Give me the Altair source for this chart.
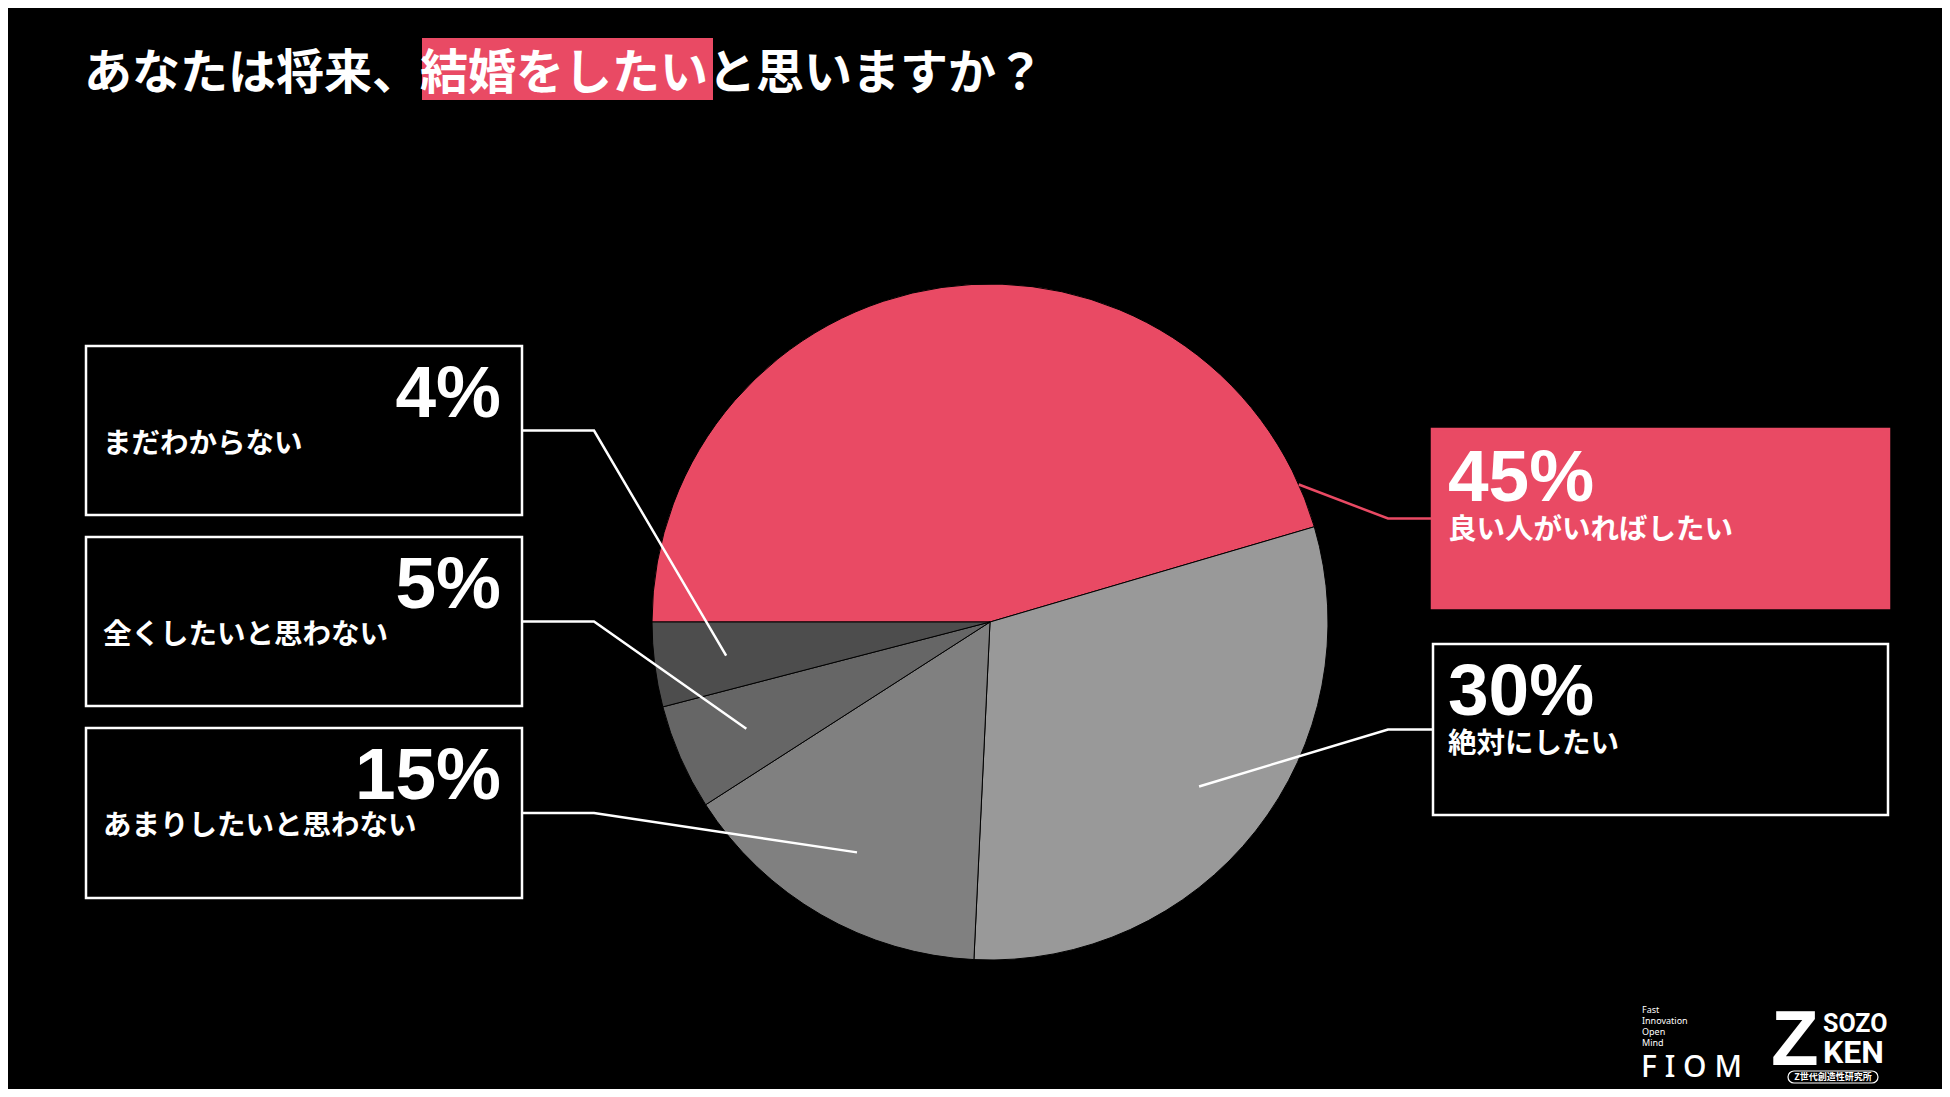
import math
import pandas as pd
import altair as alt

# ---------------- data ----------------
categories = ["良い人がいればしたい", "絶対にしたい", "あまりしたいと思わない", "全くしたいと思わない", "まだわからない"]
values = [45, 30, 15, 5, 4]
pct_labels = ["45%", "30%", "15%", "5%", "4%"]
slice_colors = ["#E94A64", "#999999", "#808080", "#666666", "#4D4D4D"]

title_text = "あなたは将来、結婚をしたいと思いますか？"
logo_fiom_words = ["Fast", "Innovation", "Open", "Mind"]
logo_fiom = "F I O M"
logo_sozo = ["SOZO", "KEN"]
logo_sub = "Z世代創造性研究所"

# ---------------- layout (screen pixels) ----------------
OFF = 8  # page margin
W, H = 1950 - 2 * OFF, 1097 - 2 * OFF
CX, CY, R = 990, 622, 338
START = 270.0  # degrees, clockwise from 12 o'clock
LEADER_R = 266

# box per category: x0, y0, x1, y1, side
boxes = [
    (1432, 429, 1889, 608, "right"),
    (1432, 643, 1889, 816, "right"),
    (85, 727, 523, 899, "left"),
    (85, 536, 523, 707, "left"),
    (85, 345, 523, 516, "left"),
]
ELBOW = {"left": 594, "right": 1388}
# first (highlighted) leader ends on the pie edge at a fixed angle
anchor_override = {0: (66.0, R)}

RED = slice_colors[0]


def sx(v):
    return v - OFF


# ---------------- pie ----------------
pie_df = pd.DataFrame({
    "cat": categories,
    "value": values,
    "color": slice_colors,
    "idx": list(range(len(values))),
})

total = sum(values)
lead_rows, box_rows, pct_rows_l, pct_rows_r, lab_rows = [], [], [], [], []
cum = 0
for i, (c, v) in enumerate(zip(categories, values)):
    mid = START + (cum + v / 2) / total * 360.0
    cum += v
    ang, rad = anchor_override.get(i, (mid, LEADER_R))
    ax = CX + rad * math.sin(math.radians(ang))
    ay = CY - rad * math.cos(math.radians(ang))
    x0, y0, x1, y1, side = boxes[i]
    ym = (y0 + y1) / 2
    edge = x1 if side == "left" else x0
    lc = RED if i == 0 else "#FFFFFF"
    for k, (px, py) in enumerate([(edge, ym), (ELBOW[side], ym), (ax, ay)]):
        lead_rows.append({"cat": c, "k": k, "x": sx(px), "y": sx(py), "lc": lc})
    if i == 0:
        box_rows.append({"x": sx(x0), "x2": sx(x1), "y": sx(y0), "y2": sx(y1),
                         "fill": RED, "stroke": RED})
    else:
        box_rows.append({"x": sx(x0 + 1), "x2": sx(x1 - 1), "y": sx(y0 + 1), "y2": sx(y1 - 1),
                         "fill": "#000000", "stroke": "#FFFFFF"})
    if side == "left":
        pct_rows_l.append({"x": sx(x1 - 22), "y": sx(y0 + 72), "t": pct_labels[i]})
        lab_rows.append({"x": sx(x0 + 18), "y": sx(y0 + 108), "t": c})
    else:
        pct_rows_r.append({"x": sx(x0 + 16), "y": sx(y0 + 72), "t": pct_labels[i]})
        lab_rows.append({"x": sx(x0 + 16), "y": sx(y0 + 110), "t": c})

lead_df = pd.DataFrame(lead_rows)
box_df = pd.DataFrame(box_rows)

X = lambda f="x": alt.X(f"{f}:Q", scale=None, axis=None)
Y = lambda f="y": alt.Y(f"{f}:Q", scale=None, axis=None)

pie = alt.Chart(pie_df).mark_arc(radius=R, stroke="#000000", strokeWidth=1).encode(
    theta=alt.Theta("value:Q", stack=True,
                    scale=alt.Scale(range=[1.5 * math.pi, 3.5 * math.pi])),
    color=alt.Color("color:N", scale=None),
    order=alt.Order("idx:Q"),
    x=alt.value(sx(CX)),
    y=alt.value(sx(CY)),
)

leaders = alt.Chart(lead_df).mark_line(strokeWidth=2.5).encode(
    x=X(), y=Y(), detail="cat:N", order="k:Q",
    color=alt.Color("lc:N", scale=None),
)

rects = alt.Chart(box_df).mark_rect(strokeWidth=2.5).encode(
    x=X(), x2="x2:Q", y=Y(), y2="y2:Q",
    fill=alt.Fill("fill:N", scale=None),
    stroke=alt.Stroke("stroke:N", scale=None),
)

pct_l = alt.Chart(pd.DataFrame(pct_rows_l)).mark_text(
    font="Liberation Sans", fontWeight="bold", fontSize=73, align="right",
    baseline="alphabetic", color="#FFFFFF").encode(x=X(), y=Y(), text="t:N")
pct_r = alt.Chart(pd.DataFrame(pct_rows_r)).mark_text(
    font="Liberation Sans", fontWeight="bold", fontSize=73, align="left",
    baseline="alphabetic", color="#FFFFFF").encode(x=X(), y=Y(), text="t:N")
labels = alt.Chart(pd.DataFrame(lab_rows)).mark_text(
    font="Noto Sans CJK JP", fontWeight="bold", fontSize=28.5, align="left",
    baseline="alphabetic", color="#FFFFFF").encode(x=X(), y=Y(), text="t:N")

# title with highlight
hl_df = pd.DataFrame([{"x": sx(422), "x2": sx(713), "y": sx(38), "y2": sx(100)}])
highlight = alt.Chart(hl_df).mark_rect(color=RED).encode(
    x=X(), x2="x2:Q", y=Y(), y2="y2:Q")
title = alt.Chart(pd.DataFrame([{"x": sx(84), "y": sx(89), "t": title_text}])).mark_text(
    font="Noto Sans CJK JP", fontWeight="bold", fontSize=48, align="left",
    baseline="alphabetic", color="#FFFFFF").encode(x=X(), y=Y(), text="t:N")

# logos
fw_df = pd.DataFrame({"x": [sx(1642)] * 4, "y": [sx(1010 + 11 * i) for i in range(4)],
                      "t": logo_fiom_words})
fiom_words = alt.Chart(fw_df).mark_text(
    font="Noto Sans", fontSize=9, align="left", baseline="middle",
    color="#FFFFFF").encode(x=X(), y=Y(), text="t:N")
fiom = alt.Chart(pd.DataFrame([{"x": sx(1641), "y": sx(1077), "t": logo_fiom}])).mark_text(
    font="Noto Sans", fontWeight=500, fontSize=30, align="left", baseline="alphabetic",
    color="#FFFFFF").encode(x=X(), y=Y(), text="t:N")
bigz = alt.Chart(pd.DataFrame([{"x": sx(1771), "y": sx(1065), "t": "Z"}])).mark_text(
    font="Liberation Sans", fontWeight="bold", fontSize=78, align="left",
    baseline="alphabetic", color="#FFFFFF").encode(x=X(), y=Y(), text="t:N")
sozo_df = pd.DataFrame({"x": [sx(1823), sx(1823)], "y": [sx(1032), sx(1063)],
                        "t": logo_sozo, "s": [25, 32]})
sozo = alt.Chart(sozo_df).mark_text(
    font="Roboto", fontWeight="bold", align="left",
    baseline="alphabetic", color="#FFFFFF").encode(
    x=X(), y=Y(), text="t:N", size=alt.Size("s:Q", scale=None))
pill = alt.Chart(pd.DataFrame([{"x": sx(1788), "x2": sx(1878), "y": sx(1071), "y2": sx(1083)}])).mark_rect(
    fill="#000000", stroke="#FFFFFF", strokeWidth=1.2, cornerRadius=6).encode(
    x=X(), x2="x2:Q", y=Y(), y2="y2:Q")
sub = alt.Chart(pd.DataFrame([{"x": sx(1833), "y": sx(1077), "t": logo_sub}])).mark_text(
    font="Noto Sans CJK JP", fontWeight="bold", fontSize=9, align="center",
    baseline="middle", color="#FFFFFF").encode(x=X(), y=Y(), text="t:N")

chart = alt.layer(
    pie, leaders, rects, pct_l, pct_r, labels, highlight, title,
    fiom_words, fiom, bigz, sozo, pill, sub,
).properties(
    width=W, height=H, padding=0,
    autosize=alt.AutoSizeParams(type="none"),
    background="#000000",
).configure_view(stroke=None)

chart.save("out.html", embed_options={"renderer": "svg", "actions": False})
